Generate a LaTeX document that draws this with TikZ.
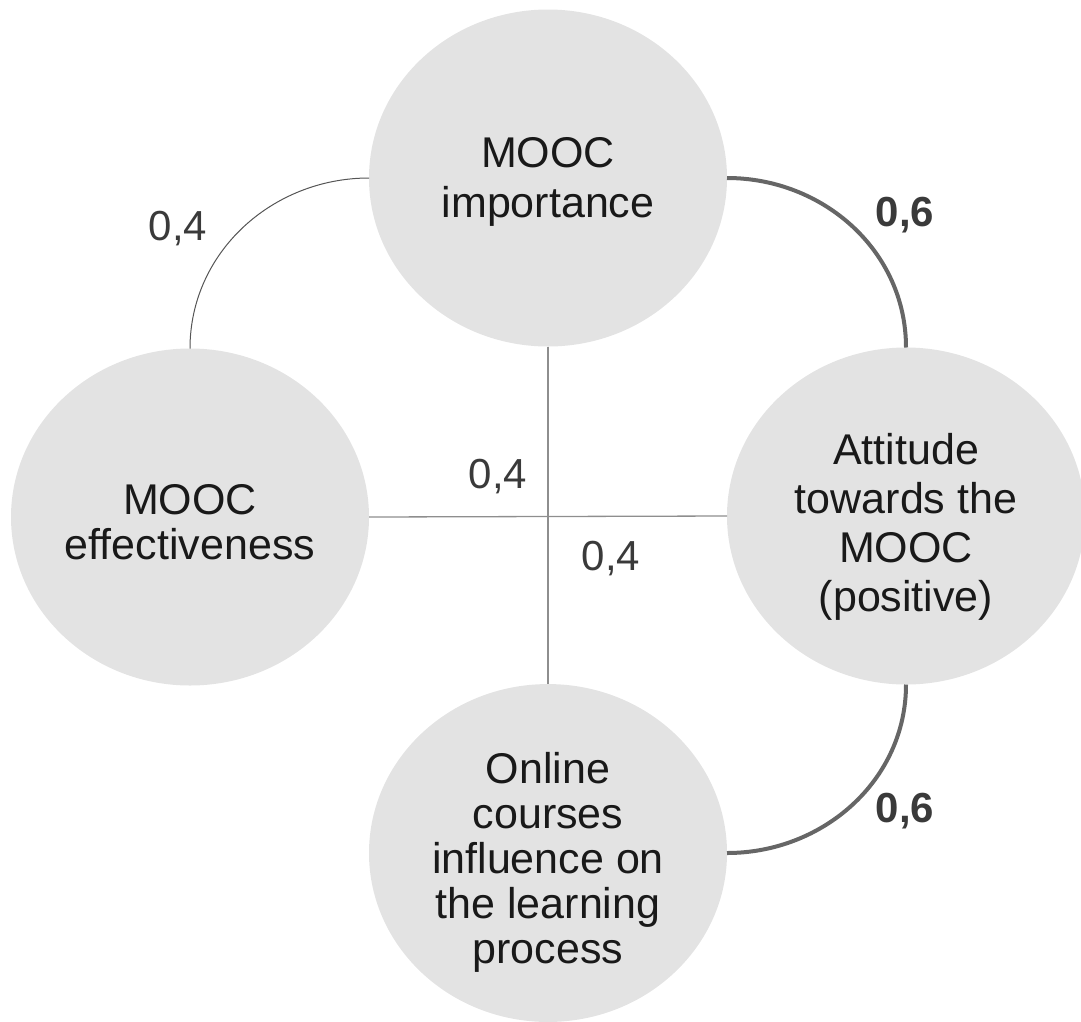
\documentclass[tikz,border=0pt]{standalone}
\usepackage{fontspec}
\setmainfont{Liberation Sans}
\usetikzlibrary{shapes.geometric}
\definecolor{bubblegray}{HTML}{E3E3E3}
\definecolor{thingray}{HTML}{8E8E8E}
\definecolor{arcgray}{HTML}{555555}
\definecolor{heavygray}{HTML}{666666}
\definecolor{labelgray}{HTML}{3A3A3A}
% invisible strut that pushes a text block down inside its bubble
\newcommand{\dropstrut}[1]{\rule{0pt}{#1}}
\tikzset{
    bubble/.style={
           ellipse,
           fill=bubblegray,
           minimum width=358pt,
           minimum height=337pt,
           inner sep=0pt,
           outer sep=0pt,
           align=center,
           text=black!90,
           font=\fontsize{43}{49}\selectfont,
           },
    weight/.style={
           text=labelgray,
           inner sep=0pt,
           font=\fontsize{42}{49}\selectfont,
           },
    heavyweight/.style={
           weight,
           font=\fontsize{42}{49}\selectfont\bfseries,
           },
    thinlink/.style={
           draw=thingray,
           line width=1.3pt,
           },
    heavylink/.style={
           draw=heavygray,
           line width=4pt,
           },
}

\begin{document}
\begin{tikzpicture}[x=1pt, y=-1pt]
	\useasboundingbox (0,0) rectangle (1081,1021);

	% the four factors
	\node[bubble, font=\fontsize{43}{50}\selectfont] (importance) at (548,178)
		{\dropstrut{38pt}MOOC\\importance};
	\node[bubble, font=\fontsize{43}{45}\selectfont] (effect) at (190,517)
		{\dropstrut{40pt}MOOC\\effectiveness};
	\node[bubble] (attitude) at (906,516)
		{\dropstrut{52pt}Attitude\\towards the\\MOOC\\(positive)};
	\node[bubble, font=\fontsize{43}{45}\selectfont] (online) at (548,853)
		{\dropstrut{50pt}Online\\courses\\influence on\\the learning\\process};

	% correlations
	\path[thinlink]	(importance.south) edge (online.north)
					(effect.east) edge (attitude.west);
	\path[draw=arcgray, line width=1pt]	(importance.west) edge[out=180, in=90] (effect.north);
	\path[heavylink]	(importance.east) edge[out=0, in=90] (attitude.north)
					(attitude.south) edge[out=-90, in=0] (online.east);

	% weights
	\node[weight] (w1) at (178,229) {0,4};
	\node[heavyweight] (w2) at (905,215) {0,6};
	\node[weight] (w3) at (498,477) {0,4};
	\node[weight] (w4) at (611,559) {0,4};
	\node[heavyweight] (w5) at (905,811) {0,6};

\end{tikzpicture}
\end{document}
